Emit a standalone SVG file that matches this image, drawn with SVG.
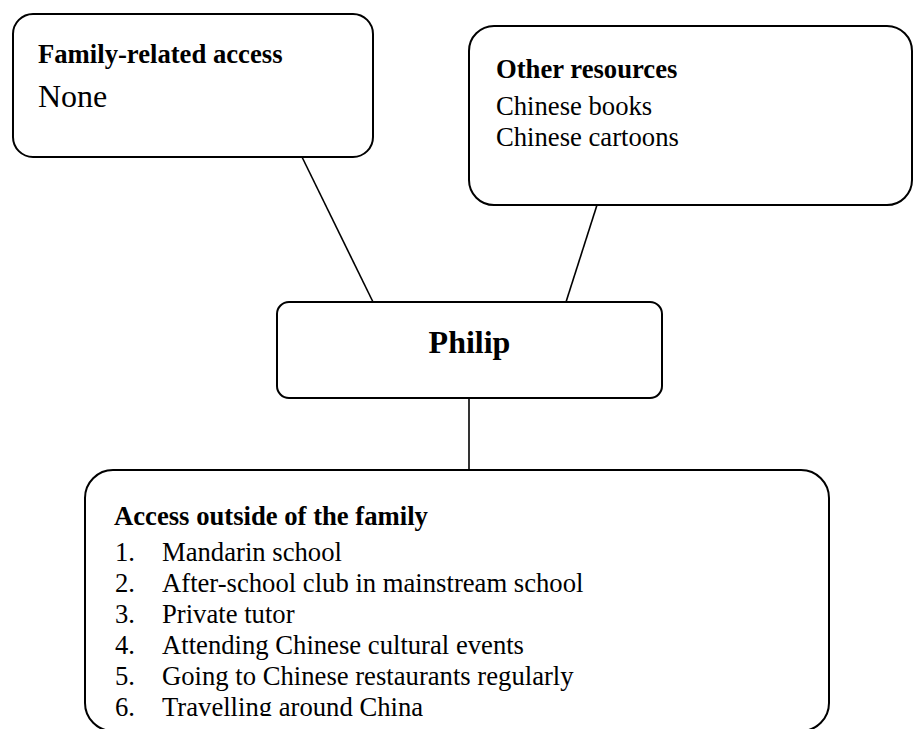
<svg xmlns="http://www.w3.org/2000/svg" width="914" height="729" viewBox="0 0 914 729">
<style>
.box{fill:#fff;stroke:#000;stroke-width:2}
.ln{stroke:#000;stroke-width:1.6;fill:none}
text{font-family:"Liberation Serif","Times New Roman",serif;fill:#000}
.h{font-size:26.67px;font-weight:bold}
.t{font-size:26.67px}
.big{font-size:32px}
.bigb{font-size:32px;font-weight:bold}
</style>
<defs>
<clipPath id="clipBottom"><rect x="86" y="471" width="742" height="245"/></clipPath>
</defs>
<g id="connectors">
<line class="ln" x1="302" y1="157" x2="373" y2="302"/>
<line class="ln" x1="597" y1="205" x2="566" y2="302"/>
<line class="ln" x1="469" y1="398" x2="469" y2="470"/>
</g>
<g id="family">
<rect class="box" x="13" y="14" width="360" height="143" rx="20" ry="20"/>
<text class="h" x="38" y="63">Family-related access</text>
<text class="big" x="38" y="107">None</text>
</g>
<g id="other">
<rect class="box" x="469" y="26" width="443" height="179" rx="25" ry="25"/>
<text class="h" x="496" y="78">Other resources</text>
<text class="t" x="496" y="115">Chinese books</text>
<text class="t" x="496" y="146">Chinese cartoons</text>
</g>
<g id="philip">
<rect class="box" x="277" y="302" width="385" height="96" rx="12" ry="12"/>
<text class="bigb" x="469.5" y="353" text-anchor="middle">Philip</text>
</g>
<g id="outside">
<rect class="box" x="85" y="470" width="744" height="261" rx="28" ry="28"/>
<text class="h" x="114" y="525">Access outside of the family</text>
<g clip-path="url(#clipBottom)">
<text class="t" x="115" y="561">1.</text><text class="t" x="162" y="561">Mandarin school</text>
<text class="t" x="115" y="592">2.</text><text class="t" x="162" y="592">After-school club in mainstream school</text>
<text class="t" x="115" y="623">3.</text><text class="t" x="162" y="623">Private tutor</text>
<text class="t" x="115" y="654">4.</text><text class="t" x="162" y="654">Attending Chinese cultural events</text>
<text class="t" x="115" y="685">5.</text><text class="t" x="162" y="685">Going to Chinese restaurants regularly</text>
<text class="t" x="115" y="716">6.</text><text class="t" x="162" y="716">Travelling around China</text>
</g>
</g>
</svg>
